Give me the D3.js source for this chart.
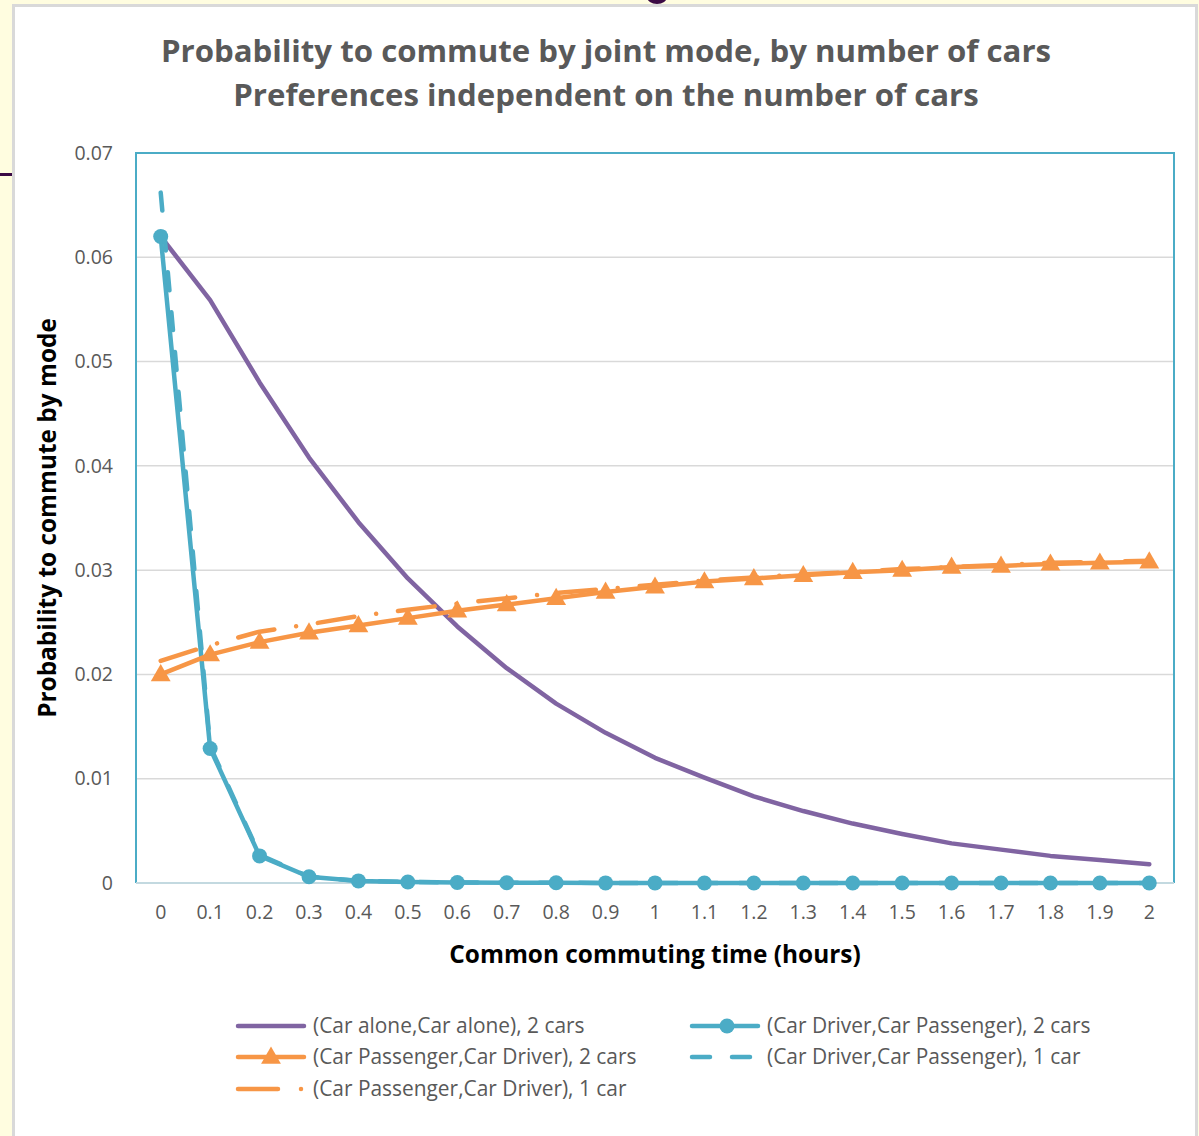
<!DOCTYPE html>
<html><head><meta charset="utf-8">
<script src="https://cdn.jsdelivr.net/npm/d3@7"></script>
<style>
html,body{margin:0;padding:0;background:#fffde0;}
svg{display:block;}
text{font-family:"Open Sans",Lato,sans-serif;}
</style></head>
<body>
<svg id="chart" width="1199" height="1136"></svg>
<script>
// ---------- data ----------
const categories = ["0","0.1","0.2","0.3","0.4","0.5","0.6","0.7","0.8","0.9","1","1.1","1.2","1.3","1.4","1.5","1.6","1.7","1.8","1.9","2"];
const carAlone2 = [0.0620,0.0559,0.0480,0.0408,0.0346,0.0292,0.0246,0.0206,0.0172,0.0144,0.0120,0.0101,0.0083,0.0069,0.0057,0.0047,0.0038,0.0032,0.0026,0.0022,0.0018];
const driverPass2 = [0.0620,0.0129,0.0026,0.0006,0.0002,0.0001,0.00005,0.00003,0.00002,0.00001,0.00001,0,0,0,0,0,0,0,0,0,0];
const passDriver2 = [0.0200,0.0219,0.0231,0.0240,0.0247,0.0254,0.0261,0.0267,0.0273,0.0279,0.0284,0.0289,0.0292,0.0295,0.0298,0.0300,0.0303,0.0304,0.0306,0.0307,0.0308];
const driverPass1 = [0.0662,0.0131,0.0027,0.0006,0.0002,0.0001,0.00005,0.00003,0.00002,0.00001,0.00001,0,0,0,0,0,0,0,0,0,0];
const passDriver1 = [0.0213,0.0228,0.0241,0.0248,0.0256,0.0262,0.0268,0.0273,0.0278,0.0282,0.0286,0.0290,0.0293,0.0296,0.0298,0.0301,0.0303,0.0305,0.0307,0.0308,0.0309];
const yTicks = [0,0.01,0.02,0.03,0.04,0.05,0.06,0.07];
const yTickLabels = ["0","0.01","0.02","0.03","0.04","0.05","0.06","0.07"];
const seriesNames = ["(Car alone,Car alone), 2 cars","(Car Driver,Car Passenger), 2 cars","(Car Passenger,Car Driver), 2 cars","(Car Driver,Car Passenger), 1 car","(Car Passenger,Car Driver), 1 car"];
const titleLines = ["Probability to commute by joint mode, by number of cars","Preferences independent on the number of cars"];
const xTitle = "Common commuting time (hours)";
const yTitle = "Probability to commute by mode";

// ---------- layout ----------
const PURPLE = "#8064a2", TEAL = "#4bacc6", ORANGE = "#f79646";
const svg = d3.select("#chart");
const plot = {left:136, right:1174, top:153, bottom:883};

// decorative slide artifacts
svg.append("rect").attr("x",0).attr("y",0).attr("width",1199).attr("height",1136).attr("fill","#fffde0");
svg.append("rect").attr("x",0).attr("y",173).attr("width",14).attr("height",3).attr("fill","#3b0a45");
svg.append("ellipse").attr("cx",657).attr("cy",-3).attr("rx",10).attr("ry",7).attr("fill","#3b0a45");
// chart area
svg.append("rect").attr("x",13.5).attr("y",5.5).attr("width",1183).attr("height",1140)
  .attr("fill","#ffffff").attr("stroke","#d9d9d9").attr("stroke-width",3);

const x = d3.scaleBand().domain(categories).range([plot.left, plot.right]);
const xc = c => x(c) + x.bandwidth()/2;
const y = d3.scaleLinear().domain([0,0.07]).range([plot.bottom, plot.top]);

// gridlines
svg.append("g").selectAll("line").data(yTicks.slice(1,-1)).join("line")
  .attr("x1",plot.left).attr("x2",plot.right)
  .attr("y1",d=>y(d)).attr("y2",d=>y(d))
  .attr("stroke","#d9d9d9").attr("stroke-width",1.5);

// plot border
svg.append("path")
  .attr("d",`M${plot.left},${plot.bottom}V${plot.top}H${plot.right}V${plot.bottom}`)
  .attr("fill","none").attr("stroke",TEAL).attr("stroke-width",2);
svg.append("line").attr("x1",plot.left).attr("x2",plot.right).attr("y1",plot.bottom).attr("y2",plot.bottom)
  .attr("stroke","#c3d9e0").attr("stroke-width",2);

// y axis labels
const yAxis = d3.axisLeft(y).tickValues(yTicks).tickFormat((d,i)=>yTickLabels[i]).tickSize(0).tickPadding(23);
const gy = svg.append("g").attr("transform",`translate(${plot.left},0)`).call(yAxis);
gy.select(".domain").remove();
gy.selectAll("text").attr("font-size",19.5).attr("fill","#595959").attr("font-family","'Open Sans',sans-serif");

// x axis labels
const xAxis = d3.axisBottom(x).tickSize(0).tickPadding(22);
const gx = svg.append("g").attr("transform",`translate(0,${plot.bottom})`).call(xAxis);
gx.select(".domain").remove();
gx.selectAll("text").attr("font-size",19.5).attr("fill","#595959").attr("font-family","'Open Sans',sans-serif");

// series
const line = d3.line().x((d,i)=>xc(categories[i])).y(d=>y(d));
const lw = 4.5;
function drawLine(data,color,dash){
  const p = svg.append("path").datum(data).attr("d",line).attr("fill","none")
    .attr("stroke",color).attr("stroke-width",lw).attr("stroke-linejoin","round").attr("stroke-linecap","round");
  if(dash) p.attr("stroke-dasharray",dash);
  return p;
}
const tri = d3.symbol().type(d3.symbolTriangle).size(170);
// 1 purple
drawLine(carAlone2,PURPLE);
// 2 teal with circles
drawLine(driverPass2,TEAL);
svg.append("g").selectAll("circle").data(driverPass2).join("circle")
  .attr("cx",(d,i)=>xc(categories[i])).attr("cy",d=>y(d)).attr("r",7.5).attr("fill",TEAL);
// 3 orange with triangles
drawLine(passDriver2,ORANGE);
svg.append("g").selectAll("path").data(passDriver2).join("path")
  .attr("d",tri).attr("fill",ORANGE)
  .attr("transform",(d,i)=>`translate(${xc(categories[i])},${y(d)+1})`);
// 4 teal dashed
drawLine(driverPass1,TEAL,"18,22");
// 5 orange long dash dot
drawLine(passDriver1,ORANGE,"37,22,0.01,22");

// titles
const tg = svg.append("g").attr("font-weight","bold").attr("fill","#595959").attr("font-size",31.2).attr("text-anchor","middle");
tg.selectAll("text").data(titleLines).join("text")
  .attr("x",606).attr("y",(d,i)=>62+i*44).text(d=>d);

svg.append("text").attr("x",(plot.left+plot.right)/2).attr("y",963).attr("text-anchor","middle")
  .attr("font-weight","bold").attr("font-size",24.4).attr("fill","#000").text(xTitle);
svg.append("text").attr("transform",`translate(56,${(plot.top+plot.bottom)/2}) rotate(-90)`).attr("text-anchor","middle")
  .attr("font-weight","bold").attr("font-size",24.4).attr("fill","#000").text(yTitle);

// legend
const legendItems = [
  {name:seriesNames[0], color:PURPLE, dash:null, marker:null, x:236, y:1026},
  {name:seriesNames[1], color:TEAL, dash:null, marker:"circle", x:690, y:1026},
  {name:seriesNames[2], color:ORANGE, dash:null, marker:"tri", x:236, y:1057},
  {name:seriesNames[3], color:TEAL, dash:"18,22", marker:null, x:690, y:1057},
  {name:seriesNames[4], color:ORANGE, dash:"40,23,0.01,23", marker:null, x:236, y:1089}
];
const lg = svg.append("g");
legendItems.forEach(it=>{
  const g = lg.append("g");
  const l = g.append("line").attr("x1",it.x+2).attr("x2",it.x+68).attr("y1",it.y).attr("y2",it.y)
    .attr("stroke",it.color).attr("stroke-width",lw).attr("stroke-linecap","round");
  if(it.dash) l.attr("stroke-dasharray",it.dash);
  if(it.marker==="circle") g.append("circle").attr("cx",it.x+37).attr("cy",it.y).attr("r",7.5).attr("fill",it.color);
  if(it.marker==="tri") g.append("path").attr("d",tri).attr("fill",it.color).attr("transform",`translate(${it.x+35},${it.y+1})`);
  g.append("text").attr("x",it.x+77).attr("y",it.y+7).attr("font-size",20.9).attr("fill","#595959").text(it.name);
});
</script>
</body></html>
